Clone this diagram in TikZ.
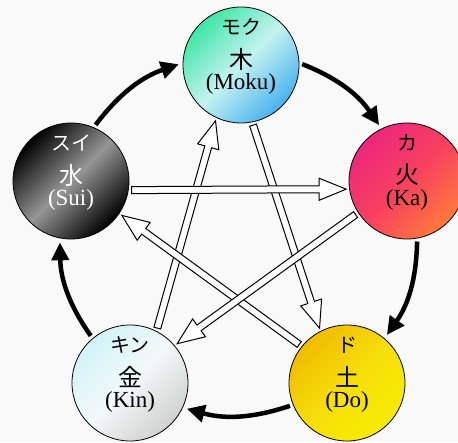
\documentclass[tikz,border=0pt]{standalone}
\usepackage{fontspec}
\setmainfont{Liberation Serif}
\newfontfamily\jpfont{Noto Sans CJK JP}
\usetikzlibrary{calc,arrows.meta}

\definecolor{bg}{RGB}{249,249,249}
\definecolor{mokuA}{RGB}{62,230,168}
\definecolor{mokuB}{RGB}{196,242,240}
\definecolor{mokuC}{RGB}{72,178,238}
\definecolor{kaA}{RGB}{236,40,124}
\definecolor{kaB}{RGB}{248,64,96}
\definecolor{kaC}{RGB}{255,122,58}
\definecolor{doA}{RGB}{240,188,0}
\definecolor{doB}{RGB}{246,222,10}
\definecolor{doC}{RGB}{246,236,0}
\definecolor{kinA}{RGB}{208,244,248}
\definecolor{kinB}{RGB}{244,248,248}
\definecolor{kinC}{RGB}{208,208,208}
\definecolor{suiB}{RGB}{150,150,150}

% hollow arrow between two anchors
\newcommand{\hollowarrow}[2]{%
  \path (#1) coordinate (ha-s) (#2) coordinate (ha-t);
  \path ($(ha-s)!3pt!(ha-t)$) coordinate (ha-a)
        ($(ha-t)!3pt!(ha-s)$) coordinate (ha-b);
  \path ($(ha-b)!27pt!(ha-a)$) coordinate (ha-h);
  \draw[hollow] ($(ha-a)!3.5pt!90:(ha-b)$) -- ($(ha-h)!3.5pt!-90:(ha-a)$)
    -- ($(ha-h)!11pt!-90:(ha-a)$) -- (ha-b) -- ($(ha-h)!11pt!90:(ha-a)$)
    -- ($(ha-h)!3.5pt!90:(ha-a)$) -- ($(ha-a)!3.5pt!-90:(ha-b)$) -- cycle;
}

\begin{document}
\begin{tikzpicture}[x=1pt, y=1pt,
    element/.style={circle, draw, line width=0.8pt, minimum size=116pt, inner sep=0pt},
    kana/.style={font=\jpfont\fontsize{20}{20}\selectfont, inner sep=0pt},
    kanji/.style={font=\jpfont\fontsize{24}{24}\selectfont, inner sep=0pt},
    roma/.style={font=\fontsize{23}{23}\selectfont, inner sep=0pt},
    cyclearrow/.style={-{Triangle[length=18pt,width=17pt]}, line width=4.5pt, shorten <=3pt, shorten >=4pt},
    hollow/.style={draw, fill=white, line width=1pt, line join=miter}]
  \useasboundingbox (0,0) rectangle (458,442);
  \fill[bg] (0,0) rectangle (458,442);

  % the five elements
  \node[element, top color=mokuA, bottom color=mokuC, middle color=mokuB, shading angle=45] (moku) at (241,377) {};
  \node[element, top color=kaA, bottom color=kaC, middle color=kaB, shading angle=45] (ka) at (407,261) {};
  \node[element, top color=doA, bottom color=doC, middle color=doB, shading angle=45] (do) at (347,59) {};
  \node[element, top color=kinA, bottom color=kinC, middle color=kinB, shading angle=45] (kin) at (130,59) {};
  \node[element, top color=black, bottom color=black, middle color=suiB, shading angle=45] (sui) at (71,261) {};

  \node[kana] (moku-kana) at ([yshift=38pt]moku.center) {モク};
  \node[kanji] (moku-kanji) at ([yshift=6pt]moku.center) {木};
  \node[roma] (moku-roma) at ([yshift=-19pt]moku.center) {(Moku)};
  \node[kana] (ka-kana) at ([yshift=38pt]ka.center) {カ};
  \node[kanji] (ka-kanji) at ([yshift=6pt]ka.center) {火};
  \node[roma] (ka-roma) at ([yshift=-19pt]ka.center) {(Ka)};
  \node[kana] (do-kana) at ([yshift=38pt]do.center) {ド};
  \node[kanji] (do-kanji) at ([yshift=6pt]do.center) {土};
  \node[roma] (do-roma) at ([yshift=-19pt]do.center) {(Do)};
  \node[kana] (kin-kana) at ([yshift=38pt]kin.center) {キン};
  \node[kanji] (kin-kanji) at ([yshift=6pt]kin.center) {金};
  \node[roma] (kin-roma) at ([yshift=-19pt]kin.center) {(Kin)};
  \node[kana, text=white] (sui-kana) at ([yshift=38pt]sui.center) {スイ};
  \node[kanji, text=white] (sui-kanji) at ([yshift=6pt]sui.center) {水};
  \node[roma, text=white] (sui-roma) at ([yshift=-19pt]sui.center) {(Sui)};

  % outer cycle
  \draw[cyclearrow] (sui.67) to[bend left=17] (moku.178);
  \draw[cyclearrow] (moku.2) to[bend left=17] (ka.116);
  \draw[cyclearrow] (ka.-80) to[bend left=17] (do.50);
  \draw[cyclearrow] (do.202) to[bend left=17] (kin.-25);
  \draw[cyclearrow] (kin.130) to[bend left=17] (sui.-101);

  % inner star
  \hollowarrow{moku.281}{do.117}
  \hollowarrow{kin.63}{moku.245}
  \hollowarrow{do.141}{sui.-34}
  \hollowarrow{ka.213}{kin.40}
  \hollowarrow{sui.-9}{ka.188}
\end{tikzpicture}
\end{document}
